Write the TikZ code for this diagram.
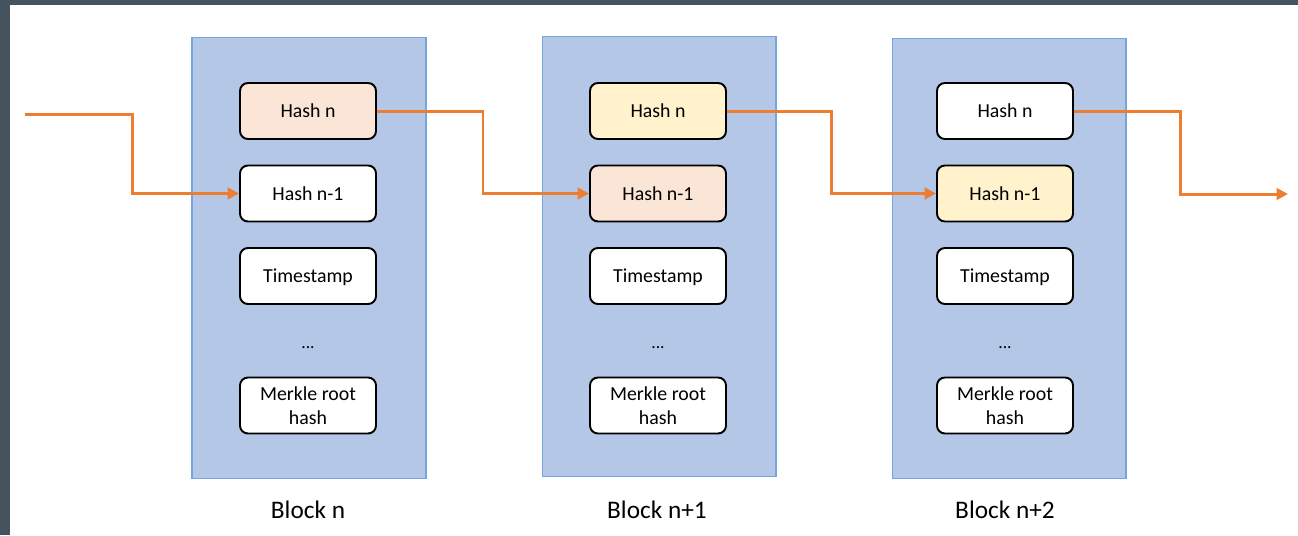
\documentclass[tikz,border=0pt]{standalone}
\usepackage{fontspec}
\setmainfont{Carlito}
\usetikzlibrary{calc,arrows.meta}

\definecolor{blockblue}{HTML}{B4C7E7}
\definecolor{blockedge}{HTML}{74A5DB}
\definecolor{peach}{HTML}{FBE5D6}
\definecolor{pale}{HTML}{FFF2CC}
\definecolor{linkorange}{HTML}{ED7D31}
\definecolor{slate}{HTML}{44535E}

\tikzset{
    blk/.style={draw=blockedge, fill=blockblue, line width=.6pt, minimum width=4.68cm, minimum height=8.82cm, inner sep=0pt},
    field/.style={draw=black, fill=white, line width=1.1pt, rounded corners=4.5pt, minimum width=2.72cm, minimum height=1.12cm, inner sep=0pt, align=center, font=\fontsize{11.3}{13.6}\selectfont},
    stamp/.style={field, text depth=0pt},
    caption/.style={font=\fontsize{14.4}{17}\selectfont},
    link/.style={draw=linkorange, line width=1.7pt, -{Triangle[length=6.5pt,width=6.5pt]}}
}

\begin{document}
\begin{tikzpicture}[x=0.02cm, y=-0.02cm]
    \useasboundingbox (0,0) rectangle (1298,535);
    \fill[slate] (0,0) rectangle (1298,5);
    \fill[slate] (0,0) rectangle (10,535);

    % block n
    \node[blk] (b1) at (309,258) {};
        \node[field, fill=peach] (h1) at (308,111) {Hash n};
        \node[field] (p1) at (308,193.5) {Hash n-1};
        \node[stamp] (t1) at (308,276) {Timestamp};
        \node (d1) at (308,348) {...};
        \node[field] (m1) at (308,405.5) {Merkle root\\hash};
    \node[caption] (c1) at (308,510) {Block n};

    % block n+1
    \node[blk] (b2) at (659,256.5) {};
        \node[field, fill=pale] (h2) at (658,111) {Hash n};
        \node[field, fill=peach] (p2) at (658,193.5) {Hash n-1};
        \node[stamp] (t2) at (658,276) {Timestamp};
        \node (d2) at (658,348) {...};
        \node[field] (m2) at (658,405.5) {Merkle root\\hash};
    \node[caption] (c2) at (657,510) {Block n+1};

    % block n+2
    \node[blk] (b3) at (1009,258.5) {};
        \node[field] (h3) at (1005,111) {Hash n};
        \node[field, fill=pale] (p3) at (1005,193.5) {Hash n-1};
        \node[stamp] (t3) at (1005,276) {Timestamp};
        \node (d3) at (1005,348) {...};
        \node[field] (m3) at (1005,405.5) {Merkle root\\hash};
    \node[caption] (c3) at (1005,510) {Block n+2};

    % hash links
    \coordinate (in) at (25,114);
    \coordinate (out) at (1288,194);
    \draw[link] (in) -| ($(in)!.5!(p1.west)$) |- (p1.west);
    \draw[link] (h1.east) -| ($(h1.east)!.5!(p2.west)$) |- (p2.west);
    \draw[link] (h2.east) -| ($(h2.east)!.5!(p3.west)$) |- (p3.west);
    \draw[link] (h3.east) -| ($(h3.east)!.5!(out)$) |- (out);
\end{tikzpicture}
\end{document}
